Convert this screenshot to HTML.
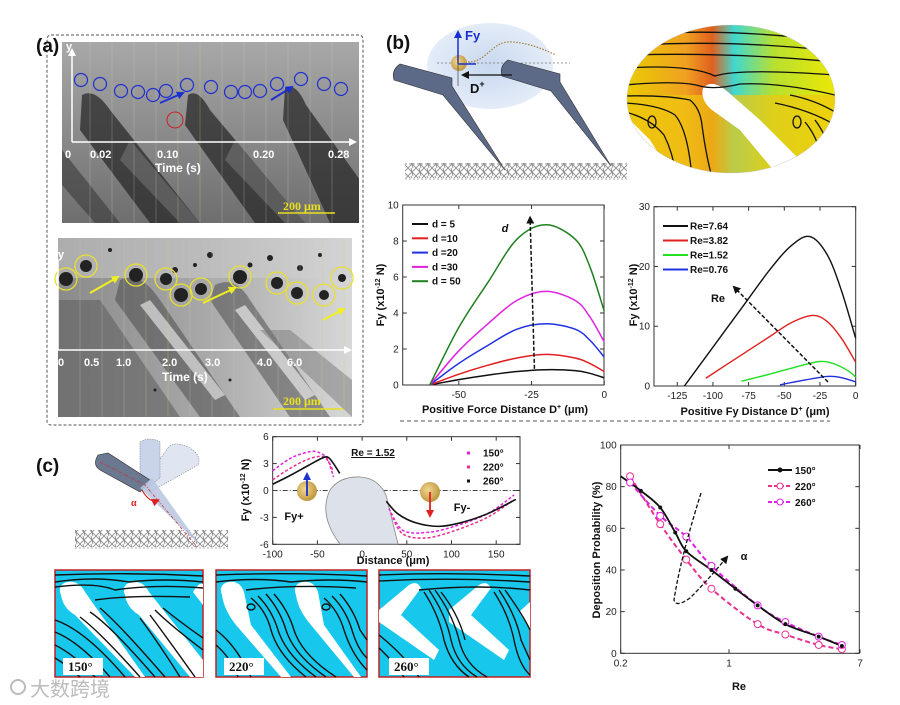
<!DOCTYPE html>
<html><head><meta charset="utf-8">
<style>
html,body{margin:0;padding:0;background:#fff;}
svg{display:block;font-family:"Liberation Sans","Noto Sans CJK SC",sans-serif;}
.tk{font-size:10px;fill:#222;}
.ax{font-size:11px;font-weight:bold;fill:#111;}
.lg{font-size:10px;font-weight:bold;fill:#111;}
.pl{font-size:19px;font-weight:bold;fill:#111;}
</style></head>
<body>
<svg id="fig" width="900" height="705" viewBox="0 0 900 705" xmlns="http://www.w3.org/2000/svg">
<defs>
<linearGradient id="gTop" x1="0" y1="0" x2="0" y2="1"><stop offset="0" stop-color="#a8a8a8"/><stop offset="0.45" stop-color="#8e8e8e"/><stop offset="1" stop-color="#6e6e6e"/></linearGradient>
<linearGradient id="gBot" x1="0" y1="0" x2="1" y2="0"><stop offset="0" stop-color="#8a8a8a"/><stop offset="0.5" stop-color="#a8a8a8"/><stop offset="1" stop-color="#d8d8d8"/></linearGradient>
<linearGradient id="gCont" x1="0" y1="0" x2="1" y2="0"><stop offset="0" stop-color="#e8d000"/><stop offset="0.3" stop-color="#f0a020"/><stop offset="0.42" stop-color="#e06020"/><stop offset="0.52" stop-color="#40d8d0"/><stop offset="0.7" stop-color="#b8e030"/><stop offset="1" stop-color="#f0e800"/></linearGradient>
<radialGradient id="gBlue" cx="0.5" cy="0.5" r="0.5"><stop offset="0" stop-color="#c8d8f0"/><stop offset="1" stop-color="#e4ecf8"/></radialGradient>
<radialGradient id="gPart" cx="0.4" cy="0.4" r="0.6"><stop offset="0" stop-color="#f0d890"/><stop offset="1" stop-color="#c09840"/></radialGradient>
<clipPath id="clipCont"><ellipse cx="731" cy="99" rx="104" ry="74"/></clipPath>
<clipPath id="cTopImg"><rect x="62" y="42" width="297" height="181"/></clipPath>
<clipPath id="cBotImg"><rect x="58" y="238" width="294" height="179"/></clipPath>
<pattern id="hatch" width="8" height="8" patternUnits="userSpaceOnUse"><path d="M0,8 L8,0 M0,0 L8,8 M3,0 L5,8" stroke="#666" stroke-width="0.8"/></pattern>
<marker id="ahK" markerUnits="userSpaceOnUse" markerWidth="8" markerHeight="8" refX="6" refY="4" orient="auto"><path d="M0,0 L8,4 L0,8 Z" fill="#111"/></marker>
<marker id="ahB" markerUnits="userSpaceOnUse" markerWidth="8" markerHeight="8" refX="6" refY="4" orient="auto"><path d="M0,0 L8,4 L0,8 Z" fill="#1a2fd0"/></marker>
<marker id="ahR" markerUnits="userSpaceOnUse" markerWidth="8" markerHeight="8" refX="6" refY="4" orient="auto"><path d="M0,0 L8,4 L0,8 Z" fill="#e02020"/></marker>
<marker id="ahY" markerUnits="userSpaceOnUse" markerWidth="8" markerHeight="8" refX="6" refY="4" orient="auto"><path d="M0,0 L8,4 L0,8 Z" fill="#f0f020"/></marker>
<marker id="ahW" markerUnits="userSpaceOnUse" markerWidth="8" markerHeight="8" refX="6" refY="4" orient="auto"><path d="M0,0 L8,4 L0,8 Z" fill="#fff"/></marker>
</defs>

<!-- ===== Panel (a) ===== -->
<g>
<rect x="47" y="35" width="316" height="390" rx="4" fill="none" stroke="#555" stroke-dasharray="3,2"/>
<text x="36" y="52" class="pl">(a)</text>
<g clip-path="url(#cTopImg)">
<rect x="62" y="42" width="297" height="181" fill="url(#gTop)"/>
<path d="M82,95 Q95,88 110,110 L200,223 L150,223 L80,130 Z" fill="#2a2a2a" opacity="0.75"/>
<path d="M188,95 Q198,88 210,110 L305,223 L255,223 L185,125 Z" fill="#2a2a2a" opacity="0.75"/>
<path d="M285,88 Q296,82 306,105 L360,180 L360,223 L330,223 L283,120 Z" fill="#2a2a2a" opacity="0.75"/>
<path d="M62,150 L120,223 L95,223 L62,185 Z" fill="#3a3a3a" opacity="0.6"/>
<path d="M130,140 L200,223 L180,223 L120,160 Z" fill="#bdbdbd" opacity="0.25"/>
<path d="M235,140 L305,223 L285,223 L225,160 Z" fill="#bdbdbd" opacity="0.25"/>
<g stroke="#c8d8a8" stroke-width="0.5" opacity="0.5"><path d="M90,42V223M112,42V223M134,42V223M156,42V223M178,42V223M200,42V223M222,42V223M244,42V223M266,42V223M288,42V223M310,42V223M332,42V223"/></g>
</g>
<g fill="none" stroke="#2030d0" stroke-width="1.2">
<circle cx="81" cy="80" r="6.5"/><circle cx="100" cy="84" r="6.5"/><circle cx="121" cy="91" r="6.5"/><circle cx="138" cy="92" r="6.5"/><circle cx="153" cy="95" r="6.5"/><circle cx="166" cy="91" r="6.5"/><circle cx="187" cy="85" r="6.5"/><circle cx="211" cy="87" r="6.5"/><circle cx="231" cy="92" r="6.5"/><circle cx="245" cy="92" r="6.5"/><circle cx="260" cy="91" r="6.5"/><circle cx="277" cy="84" r="6.5"/><circle cx="301" cy="79" r="6.5"/><circle cx="324" cy="84" r="6.5"/><circle cx="341" cy="89" r="6.5"/>
</g>
<circle cx="175" cy="120" r="8" fill="none" stroke="#d02020" stroke-width="1"/>
<line x1="160" y1="103" x2="183" y2="93" stroke="#2030d0" stroke-width="2" marker-end="url(#ahB)"/>
<line x1="271" y1="100" x2="292" y2="87" stroke="#2030d0" stroke-width="2" marker-end="url(#ahB)"/>
<g>
<line x1="72" y1="142" x2="72" y2="50" stroke="#fff" stroke-width="1.5" marker-end="url(#ahW)"/>
<line x1="72" y1="142" x2="355" y2="142" stroke="#fff" stroke-width="1.5" marker-end="url(#ahW)"/>
<text x="66" y="50" fill="#fff" font-size="11" font-weight="bold">y</text>
<g fill="#fff" font-size="11" font-weight="bold"><text x="65" y="158">0</text><text x="90" y="158">0.02</text><text x="157" y="158">0.10</text><text x="253" y="158">0.20</text><text x="328" y="158">0.28</text><text x="155" y="172" font-size="12">Time (s)</text></g>
</g>
<line x1="278" y1="213" x2="335" y2="213" stroke="#e8e020" stroke-width="1.5"/>
<text x="283" y="210" fill="#e8e020" font-size="12" font-weight="bold" font-family="Liberation Serif, serif">200 μm</text>

<g clip-path="url(#cBotImg)">
<rect x="58" y="238" width="294" height="179" fill="url(#gBot)"/>
<rect x="58" y="238" width="294" height="40" fill="#d0d0d0" opacity="0.5"/>
<path d="M58,300 L100,300 L180,417 L58,417 Z" fill="#606060" opacity="0.6"/>
<path d="M120,280 Q140,270 160,300 L240,417 L200,417 L115,300 Z" fill="#444" opacity="0.5"/>
<path d="M150,300 L225,395 L215,400 L140,305 Z" fill="#e0e0e0" opacity="0.7"/>
<path d="M215,285 Q235,275 250,300 L330,417 L290,417 L210,300 Z" fill="#444" opacity="0.5"/>
<path d="M245,305 L315,395 L305,400 L235,310 Z" fill="#e8e8e8" opacity="0.7"/>
<path d="M260,330 L352,417 L352,380 L290,330 Z" fill="#777" opacity="0.5"/>
<g fill="#222"><circle cx="175" cy="270" r="3"/><circle cx="195" cy="265" r="2"/><circle cx="210" cy="255" r="3"/><circle cx="250" cy="265" r="2.5"/><circle cx="270" cy="258" r="3"/><circle cx="300" cy="268" r="3"/><circle cx="320" cy="255" r="2"/><circle cx="110" cy="250" r="2"/><circle cx="155" cy="390" r="1.5"/><circle cx="230" cy="380" r="1.5"/></g>
<g stroke="#b8d098" stroke-width="0.5" opacity="0.6"><path d="M80,238V417M102,238V417M124,238V417M146,238V417M168,238V417M190,238V417M212,238V417M234,238V417M256,238V417M278,238V417M300,238V417M322,238V417M344,238V417"/></g>
</g>
<g fill="#222">
<circle cx="66" cy="279" r="7"/><circle cx="86" cy="266" r="6"/><circle cx="136" cy="275" r="7"/><circle cx="166" cy="279" r="6"/><circle cx="181" cy="295" r="7"/><circle cx="201" cy="289" r="6"/><circle cx="240" cy="277" r="7"/><circle cx="277" cy="283" r="6"/><circle cx="297" cy="293" r="6"/><circle cx="324" cy="295" r="5"/><circle cx="342" cy="278" r="4"/>
</g>
<g fill="none" stroke="#e8e030" stroke-width="1.3">
<circle cx="66" cy="279" r="11"/><circle cx="86" cy="266" r="11"/><circle cx="136" cy="275" r="11"/><circle cx="166" cy="279" r="11"/><circle cx="181" cy="295" r="11"/><circle cx="201" cy="289" r="11"/><circle cx="240" cy="277" r="11"/><circle cx="277" cy="283" r="11"/><circle cx="297" cy="293" r="11"/><circle cx="324" cy="295" r="11"/><circle cx="342" cy="278" r="11"/>
</g>
<g stroke="#f0f020" stroke-width="2">
<line x1="90" y1="293" x2="118" y2="277" marker-end="url(#ahY)"/><line x1="203" y1="303" x2="235" y2="288" marker-end="url(#ahY)"/><line x1="323" y1="320" x2="344" y2="309" marker-end="url(#ahY)"/>
</g>
<g>
<line x1="58" y1="350" x2="350" y2="350" stroke="#fff" stroke-width="1.5" marker-end="url(#ahW)"/>
<line x1="58" y1="350" x2="58" y2="260" stroke="#fff" stroke-width="1.5"/>
<text x="58" y="258" fill="#fff" font-size="11" font-weight="bold">y</text>
<g fill="#fff" font-size="11" font-weight="bold"><text x="58" y="366">0</text><text x="84" y="366">0.5</text><text x="116" y="366">1.0</text><text x="162" y="366">2.0</text><text x="205" y="366">3.0</text><text x="257" y="366">4.0</text><text x="287" y="366">6.0</text><text x="162" y="381" font-size="12">Time (s)</text></g>
</g>
<line x1="273" y1="409" x2="343" y2="409" stroke="#e8e020" stroke-width="1.5"/>
<text x="283" y="405" fill="#e8e020" font-size="12" font-weight="bold" font-family="Liberation Serif, serif">200 μm</text>
</g>

<!-- ===== Panel (b) schematic ===== -->
<g>
<text x="386" y="49" class="pl">(b)</text>
<ellipse cx="490" cy="66" rx="63" ry="43" fill="url(#gBlue)"/>
<line x1="437" y1="63" x2="570" y2="63" stroke="#777" stroke-width="0.8" stroke-dasharray="2,2"/>
<path d="M400,64 Q391,70 394,80 L443,95 L505,170 L452,86 L452,78 Z" fill="#5c6a88" stroke="#333" stroke-width="0.6"/>
<path d="M508,60 Q499,66 502,76 L551,91 L611,166 L560,82 L560,74 Z" fill="#5c6a88" stroke="#333" stroke-width="0.6"/>
<circle cx="459" cy="63" r="8" fill="url(#gPart)"/>
<line x1="458" y1="64" x2="458" y2="32" stroke="#1a2fd0" stroke-width="1.5" marker-end="url(#ahB)"/>
<line x1="458" y1="64" x2="476" y2="64" stroke="#1a2fd0" stroke-width="1.5"/>
<text x="465" y="40" fill="#1a2fd0" font-size="13" font-weight="bold">Fy</text>
<line x1="458" y1="60" x2="458" y2="86" stroke="#555" stroke-width="0.8"/>
<line x1="512" y1="75" x2="463" y2="75" stroke="#111" stroke-width="1.2" marker-end="url(#ahK)"/>
<text x="470" y="93" font-size="13" font-weight="bold" fill="#111">D<tspan font-size="9" dy="-6">+</tspan></text>
<path d="M468,62 C488,62 492,40 512,42 C530,43 545,50 556,55" fill="none" stroke="#a08040" stroke-width="1.2" stroke-dasharray="1.5,1.5"/>
<rect x="405" y="163" width="222" height="15" fill="url(#hatch)" opacity="0.8"/>
<line x1="405" y1="164" x2="628" y2="164" stroke="#555" stroke-width="0.6" stroke-dasharray="2,2"/>
<line x1="405" y1="179" x2="628" y2="179" stroke="#555" stroke-width="0.6" stroke-dasharray="2,2"/>
</g>
<g>
<g clip-path="url(#clipCont)">
<rect x="620" y="20" width="220" height="160" fill="url(#gCont)"/>
<rect x="620" y="95" width="220" height="85" fill="#f0c810" opacity="0.7"/>
<path d="M703,88 Q712,78 728,92 L760,120 L800,160 L812,175 L780,178 L740,130 L712,110 Q700,100 703,88 Z" fill="#fff"/>
<path d="M620,110 L650,140 L672,175 L620,175 Z" fill="#fff"/>
<g fill="none" stroke="#111" stroke-width="1.3">
<path d="M660,33 Q730,30 805,38"/><path d="M640,45 Q730,40 825,50"/><path d="M630,55 Q730,52 835,62"/><path d="M625,68 Q690,64 715,76 Q740,68 835,75"/>
<path d="M625,85 Q680,80 700,86 Q715,90 740,84 Q780,82 835,95"/>
<path d="M625,96 Q665,95 690,100 Q700,108 702,125 Q705,150 712,178"/>
<path d="M625,103 Q660,105 675,115 Q688,130 692,178"/>
<path d="M625,112 Q650,118 664,135 Q674,155 676,178"/>
<path d="M790,95 Q815,100 835,112"/><path d="M775,103 Q810,110 835,125"/><path d="M805,122 Q820,140 822,165"/><path d="M815,120 Q830,140 830,160"/>
<ellipse cx="652" cy="122" rx="4" ry="6"/><ellipse cx="797" cy="122" rx="4" ry="6"/>
</g>
</g>
<ellipse cx="731" cy="99" rx="104" ry="74" fill="none" stroke="#bbb" stroke-width="0.6" stroke-dasharray="1,1"/>
</g>

<line x1="400" y1="421" x2="830" y2="421" stroke="#555" stroke-width="1" stroke-dasharray="4,3"/>

<!-- ===== Panel (c) schematic ===== -->
<g>
<text x="36" y="472" class="pl">(c)</text>
<rect x="75" y="530" width="153" height="17" fill="url(#hatch)" opacity="0.8"/>
<line x1="75" y1="548" x2="228" y2="548" stroke="#555" stroke-width="0.6" stroke-dasharray="2,2"/>
<path d="M168,448 Q174,440 190,448 Q202,456 198,465 L150,492 L140,486 Z" fill="#dfe6f2" stroke="#888" stroke-width="0.6" stroke-dasharray="1.5,1"/>
<path d="M140,442 Q150,436 160,442 L160,478 L145,490 L140,478 Z" fill="#c9d4ea" stroke="#888" stroke-width="0.6" stroke-dasharray="1.5,1"/>
<path d="M98,455 Q92,465 100,470 L140,492 L150,480 L108,453 Z" fill="#6a7890" stroke="#333" stroke-width="0.6"/>
<path d="M140,488 L152,478 L200,545 Z" fill="#b8c6e0" opacity="0.85"/>
<path d="M100,462 L145,485 L198,548" fill="none" stroke="#d03030" stroke-width="0.8" stroke-dasharray="3,1.5,1,1.5"/>
<path d="M142,490 Q150,504 158,500" fill="none" stroke="#d02020" stroke-width="1.2" marker-end="url(#ahR)"/>
<text x="131" y="506" fill="#e02020" font-size="10" font-weight="bold" font-family="Liberation Serif, serif">α</text>
</g>

<!-- Flow panels -->
<g transform="translate(55,570)">
<rect x="0" y="0" width="148" height="107" fill="#18c8ec" stroke="#c02020" stroke-width="1.5"/>
<path d="M6,25 Q2,15 12,12 Q24,10 30,22 L90,107 L80,107 L20,45 Q8,38 6,25 Z" fill="#fff"/>
<path d="M70,25 Q66,15 76,12 Q88,10 94,22 L148,90 L148,107 L135,107 L84,45 Q72,38 70,25 Z" fill="#fff"/>
<path d="M138,22 Q144,12 148,14 L148,35 Z" fill="#fff"/>
<g fill="none" stroke="#111" stroke-width="1.4">
<path d="M0,5 Q74,2 148,6"/><path d="M0,12 Q40,6 74,12 Q110,8 148,12"/><path d="M0,17 Q40,12 60,20 Q100,14 148,18"/><path d="M40,30 Q75,25 135,27"/>
<path d="M0,50 Q30,60 70,107"/><path d="M0,62 Q25,72 55,107"/><path d="M0,75 Q20,85 40,107"/><path d="M0,88 Q12,95 25,107"/>
<path d="M35,42 Q55,55 100,107"/><path d="M45,38 Q65,55 110,107"/><path d="M25,47 Q45,62 85,107"/>
<path d="M100,40 Q115,55 148,80"/><path d="M108,38 Q125,52 148,68"/><path d="M95,45 Q110,65 140,107"/><path d="M85,48 Q105,75 125,107"/>
</g>
<rect x="8" y="88" width="40" height="17" fill="#fff"/>
<text x="13" y="101" font-size="13" font-weight="bold" font-family="Liberation Serif, serif" fill="#111">150°</text>
</g>
<g transform="translate(216,570)">
<rect x="0" y="0" width="151" height="107" fill="#18c8ec" stroke="#c02020" stroke-width="1.5"/>
<path d="M6,25 Q2,15 12,12 Q24,10 28,22 L35,55 L75,107 L65,107 L20,55 Q8,40 6,25 Z" fill="#fff"/>
<path d="M80,25 Q76,15 86,12 Q98,10 102,22 L108,55 L145,107 L138,107 L95,55 Q82,40 80,25 Z" fill="#fff"/>
<g fill="none" stroke="#111" stroke-width="1.4">
<path d="M0,5 Q75,2 151,6"/><path d="M0,12 Q40,7 75,12 Q115,8 151,12"/><path d="M30,20 Q80,14 140,18"/>
<path d="M35,28 Q50,40 55,60 Q62,85 90,107"/><path d="M42,26 Q56,40 62,60 Q70,85 100,107"/><path d="M50,24 Q64,40 70,60 Q78,85 110,107"/><path d="M58,24 Q72,40 78,60 Q86,85 120,107"/>
<path d="M108,28 Q122,40 128,60 Q136,85 151,100"/><path d="M116,26 Q130,40 136,60 Q142,80 151,88"/><path d="M124,24 Q138,40 144,60 L151,70"/>
<path d="M0,60 Q20,75 35,107"/><path d="M0,75 Q15,88 22,107"/>
<ellipse cx="35" cy="37" rx="4" ry="3"/><ellipse cx="110" cy="37" rx="4" ry="3"/>
</g>
<rect x="8" y="88" width="40" height="17" fill="#fff"/>
<text x="13" y="101" font-size="13" font-weight="bold" font-family="Liberation Serif, serif" fill="#111">220°</text>
</g>
<g transform="translate(379,570)">
<rect x="0" y="0" width="151" height="107" fill="#18c8ec" stroke="#c02020" stroke-width="1.5"/>
<path d="M0,40 L30,15 Q38,10 42,18 L22,45 L60,80 L55,90 L0,52 Z" fill="#fff"/>
<path d="M70,40 L100,15 Q108,10 112,18 L92,45 L130,80 L125,90 L70,52 Z" fill="#fff"/>
<path d="M140,42 L151,32 L151,60 Z" fill="#fff"/>
<g fill="none" stroke="#111" stroke-width="1.4">
<path d="M0,5 Q75,2 151,6"/><path d="M0,11 Q75,7 151,12"/><path d="M40,20 Q100,14 151,20"/>
<path d="M45,22 Q60,45 65,70 Q72,95 90,107"/><path d="M50,20 Q67,45 72,70 Q78,95 98,107"/><path d="M56,20 Q74,45 80,70 Q86,95 108,107"/><path d="M62,22 Q80,45 86,70"/>
<path d="M115,22 Q130,45 135,70 Q140,95 151,105"/><path d="M120,20 Q137,45 142,70 L151,90"/><path d="M126,20 Q144,45 151,60"/>
<path d="M0,65 Q25,85 40,107"/><path d="M0,78 Q15,92 25,107"/>
</g>
<rect x="10" y="88" width="40" height="17" fill="#fff"/>
<text x="15" y="101" font-size="13" font-weight="bold" font-family="Liberation Serif, serif" fill="#111">260°</text>
</g>

<g>
<circle cx="18" cy="687" r="7" fill="none" stroke="#bbb" stroke-width="2"/>
<text x="30" y="696" font-size="20" fill="#bbb" font-family="Liberation Sans, Noto Sans CJK SC, sans-serif">大数跨境</text>
</g>

<g id="charts"></g>
</svg>

<script>
// ---- Chart b1 data ----
const b1X = [-60, -50, -40, -30, -20, -10, -5, 0];
const b1D5 = [0, 0.3, 0.55, 0.75, 0.85, 0.8, 0.65, 0.4];
const b1D10 = [0, 0.6, 1.1, 1.5, 1.7, 1.5, 1.2, 0.75];
const b1D20 = [0, 1.2, 2.2, 3.1, 3.4, 3.1, 2.5, 1.55];
const b1D30 = [0, 1.9, 3.4, 4.7, 5.2, 4.7, 3.8, 2.4];
const b1D50 = [0, 3.2, 5.7, 8.1, 8.9, 8.1, 6.6, 4.1];
const b1Labels = ["d = 5", "d =10", "d =20", "d =30", "d = 50"];
const b1XTicks = [-50, -25, 0];
const b1YTicks = [0, 2, 4, 6, 8, 10];
// ---- Chart b2 data ----
const b2X764 = [-120, -100, -80, -60, -45, -32, -20, -10, 0];
const b2Y764 = [0, 6.5, 13, 19.5, 23.5, 25, 22, 16, 8];
const b2X382 = [-105, -80, -60, -45, -30, -20, -10, 0];
const b2Y382 = [1.3, 5.2, 8.3, 10.6, 11.8, 10.8, 8, 4];
const b2X152 = [-80, -60, -40, -25, -15, -5, 0];
const b2Y152 = [0.8, 2, 3.3, 4.1, 3.7, 2.5, 1.5];
const b2X076 = [-53, -40, -20, -10, 0];
const b2Y076 = [0.2, 0.8, 1.6, 1.4, 0.7];
const b2Labels = ["Re=7.64", "Re=3.82", "Re=1.52", "Re=0.76"];
const b2XTicks = [-125, -100, -75, -50, -25, 0];
const b2YTicks = [0, 10, 20, 30];
// ---- Chart c1 data ----
const c1BlackLX = [-100, -80, -60, -45, -38, -32, -25];
const c1BlackLY = [0.7, 1.7, 2.8, 3.6, 3.7, 3.0, 1.9];
const c1BlackRX = [27, 40, 60, 85, 110, 140, 172];
const c1BlackRY = [-1.2, -2.6, -3.6, -4.0, -3.6, -2.6, -1.0];
const c1P1LX = [-100, -80, -60, -50, -40, -35, -32];
const c1P1LY = [2.2, 3.6, 4.3, 4.3, 3.7, 2.5, 1.5];
const c1P1RX = [30, 45, 70, 100, 140, 170];
const c1P1RY = [-2.0, -4.4, -4.7, -4.1, -2.6, -0.5];
const c1P2LX = [-100, -80, -60, -45, -38, -33];
const c1P2LY = [1.2, 2.5, 3.5, 3.8, 3.3, 2.3];
const c1P2RX = [32, 45, 70, 100, 140, 170];
const c1P2RY = [-2.5, -4.8, -5.3, -4.6, -3.0, -1.0];
const c1Labels = ["150°", "220°", "260°"];
const c1XTicks = [-100, -50, 0, 50, 100, 150];
const c1YTicks = [-6, -3, 0, 3, 6];
// ---- Chart c2 data ----
const c2X150 = [0.2, 0.27, 0.36, 0.45, 0.53, 0.77, 1.1, 1.53, 2.31, 3.79, 5.35];
const c2Y150 = [85, 78, 70, 58, 49, 40, 31, 23, 14, 8, 3.5];
const c2X220 = [0.23, 0.36, 0.53, 0.77, 1.53, 2.31, 3.79, 5.35];
const c2Y220 = [85, 62, 45, 31, 14, 9, 4, 2];
const c2X260 = [0.23, 0.36, 0.53, 0.77, 1.53, 2.31, 3.79, 5.35];
const c2Y260 = [82, 66, 56, 42, 23, 15, 8, 4];
const c2Labels = ["150°", "220°", "260°"];
const c2XTicks = [0.2, 1, 7];
const c2YTicks = [0, 20, 40, 60, 80, 100];

const NS = "http://www.w3.org/2000/svg";
const root = document.getElementById("charts");
function mk(tag, attrs, parent) {
  const e = document.createElementNS(NS, tag);
  for (const k in attrs) e.setAttribute(k, attrs[k]);
  (parent || root).appendChild(e);
  return e;
}
function smooth(pts) {
  let d = "M" + pts[0][0] + "," + pts[0][1];
  for (let i = 0; i < pts.length - 1; i++) {
    const p0 = pts[i - 1] || pts[i], p1 = pts[i], p2 = pts[i + 1], p3 = pts[i + 2] || p2;
    const c1x = p1[0] + (p2[0] - p0[0]) / 6, c1y = p1[1] + (p2[1] - p0[1]) / 6;
    const c2x = p2[0] - (p3[0] - p1[0]) / 6, c2y = p2[1] - (p3[1] - p1[1]) / 6;
    d += " C" + c1x + "," + c1y + " " + c2x + "," + c2y + " " + p2[0] + "," + p2[1];
  }
  return d;
}
function series(xs, ys, sx, sy, color, w, dash, name) {
  const pts = xs.map((x, i) => [sx(x), sy(ys[i])]);
  const p = mk("path", {d: smooth(pts), fill: "none", stroke: color, "stroke-width": w, "stroke-dasharray": dash || "none"});
  
  
  return pts;
}
function frame(x0, y0, x1, y1, sx, sy, xt, yt, xfmt, name) {
  const g = mk("g", {});
  
  
  mk("rect", {x: x0, y: y1, width: x1 - x0, height: y0 - y1, fill: "none", stroke: "#333", "stroke-width": 1}, g);
  xt.forEach(v => {
    const x = sx(v);
    mk("line", {x1: x, x2: x, y1: y0, y2: y0 - 4, stroke: "#333"}, g);
    mk("line", {x1: x, x2: x, y1: y1, y2: y1 + 4, stroke: "#333"}, g);
    const t = mk("text", {x: x, y: y0 + 13, "text-anchor": "middle", class: "tk"}, g);
    t.textContent = xfmt ? xfmt(v) : v;
    
    
  });
  yt.forEach(v => {
    const y = sy(v);
    mk("line", {x1: x0, x2: x0 + 4, y1: y, y2: y, stroke: "#333"}, g);
    mk("line", {x1: x1, x2: x1 - 4, y1: y, y2: y, stroke: "#333"}, g);
    const t = mk("text", {x: x0 - 4, y: y + 3.5, "text-anchor": "end", class: "tk"}, g);
    t.textContent = v;
    
    
  });
}
function label(x, y, txt, cls, rot, name, extra) {
  const t = mk("text", Object.assign({x: x, y: y, class: cls, "text-anchor": "middle"}, extra || {}));
  if (rot) t.setAttribute("transform", "rotate(-90 " + x + " " + y + ")");
  t.innerHTML = txt;
  
  
  return t;
}

// ===== Chart b1 =====
const b1sx = v => 402.7 + (v + 69.3) * 2.908;
const b1sy = v => 385 - v * 18;
frame(402.7, 385, 604, 205, b1sx, b1sy, b1XTicks, b1YTicks, null, "chart-b1-axes");
const b1Colors = ["#111", "#e02020", "#2030e0", "#e020e0", "#208020"];
[b1D5, b1D10, b1D20, b1D30, b1D50].forEach((ys, i) => {
  series(b1X, ys, b1sx, b1sy, b1Colors[i], 1.5, null, "b1-line-" + i);
});
b1Labels.forEach((s, i) => {
  const y = 224 + i * 14.3;
  const l = mk("line", {x1: 412, x2: 428, y1: y, y2: y, stroke: b1Colors[i], "stroke-width": 2});
  
  
  const t = mk("text", {x: 432, y: y + 3.5, class: "lg"});
  t.textContent = s;
  
  
});
const b1arrow = mk("line", {x1: b1sx(-24), y1: b1sy(0.9), x2: b1sx(-25.5), y2: b1sy(9.3), stroke: "#111", "stroke-width": 1.5, "stroke-dasharray": "4,2", "marker-end": "url(#ahK)"});


label(505, 232, "d", "ax", false, "b1-d-label", {"font-style": "italic", "font-size": "13"});
label(384, 295, "Fy (x10<tspan font-size='7' dy='-4'>-12</tspan><tspan dy='4'> N)</tspan>", "ax", true, "b1-y-axis-title");
label(505, 413, "Positive Force Distance D<tspan font-size='7' dy='-4'>+</tspan><tspan dy='4'> (μm)</tspan>", "ax", false, "b1-x-axis-title");

// ===== Chart b2 =====
const b2sx = v => 654 + (v + 141.3) * 1.427;
const b2sy = v => 386 - v * 5.977;
frame(654, 386, 855.7, 206.7, b2sx, b2sy, b2XTicks, b2YTicks, null, "chart-b2-axes");
const b2Colors = ["#111", "#e02020", "#20e020", "#2030e0"];
series(b2X764, b2Y764, b2sx, b2sy, b2Colors[0], 1.4, null, "b2-line-re764");
series(b2X382, b2Y382, b2sx, b2sy, b2Colors[1], 1.4, null, "b2-line-re382");
series(b2X152, b2Y152, b2sx, b2sy, b2Colors[2], 1.4, null, "b2-line-re152");
series(b2X076, b2Y076, b2sx, b2sy, b2Colors[3], 1.4, null, "b2-line-re076");
b2Labels.forEach((s, i) => {
  const y = 226 + i * 14.5;
  const l = mk("line", {x1: 663, x2: 688, y1: y, y2: y, stroke: b2Colors[i], "stroke-width": 2});
  
  
  const t = mk("text", {x: 690, y: y + 3.5, class: "lg"});
  t.textContent = s;
  
  
});
const b2arrow = mk("line", {x1: 828, y1: 382, x2: 734, y2: 287, stroke: "#111", "stroke-width": 1.5, "stroke-dasharray": "4,2", "marker-end": "url(#ahK)"});


label(718, 302, "Re", "ax", false, "b2-re-label", {"font-size": "14"});
label(637, 295, "Fy (x10<tspan font-size='7' dy='-4'>-12</tspan><tspan dy='4'> N)</tspan>", "ax", true, "b2-y-axis-title");
label(755, 415, "Positive Fy Distance D<tspan font-size='7' dy='-4'>+</tspan><tspan dy='4'> (μm)</tspan>", "ax", false, "b2-x-axis-title");

// ===== Chart c1 =====
const c1sx = v => 272.7 + (v + 100) * 0.894;
const c1sy = v => 490.5 - v * 8.97;
frame(272.7, 544.3, 520, 436.7, c1sx, c1sy, c1XTicks, c1YTicks, null, "chart-c1-axes");
const zl = mk("line", {x1: 272.7, x2: 520, y1: c1sy(0), y2: c1sy(0), stroke: "#444", "stroke-width": 1, "stroke-dasharray": "5,2,1,2"});


const drop = mk("path", {d: "M340,544 Q318,515 330,490 Q340,476 360,477 Q378,478 386,495 L398,544 Z", fill: "#dde2ea", stroke: "#888", "stroke-width": 0.8});


series(c1P1LX, c1P1LY, c1sx, c1sy, "#e020e0", 1.5, "3,2", "c1-line-150-left");
series(c1P1RX, c1P1RY, c1sx, c1sy, "#e020e0", 1.5, "3,2", "c1-line-150-right");
series(c1P2LX, c1P2LY, c1sx, c1sy, "#e83090", 1.5, "3,2", "c1-line-220-left");
series(c1P2RX, c1P2RY, c1sx, c1sy, "#e83090", 1.5, "3,2", "c1-line-220-right");
series(c1BlackLX, c1BlackLY, c1sx, c1sy, "#111", 1.6, null, "c1-line-260-left");
series(c1BlackRX, c1BlackRY, c1sx, c1sy, "#111", 1.6, null, "c1-line-260-right");
const c1Colors = ["#e020e0", "#e83090", "#111"];
c1Labels.forEach((s, i) => {
  const y = 453 + i * 14;
  const d = mk("rect", {x: 467, y: y - 1.5, width: 3, height: 3, fill: c1Colors[i]});
  
  
  const t = mk("text", {x: 483, y: y + 3.5, class: "lg"});
  t.textContent = s;
  
  
});
label(373, 456, "Re = 1.52", "lg", false, "c1-re-label", {"text-decoration": "underline"});
const pa = mk("circle", {cx: 307, cy: 491, r: 10, fill: "url(#gPart)"});


const pb = mk("circle", {cx: 430, cy: 492, r: 10, fill: "url(#gPart)"});


const fa = mk("line", {x1: 307, y1: 496, x2: 307, y2: 474, stroke: "#1a2fd0", "stroke-width": 1.8, "marker-end": "url(#ahB)"});


const fb = mk("line", {x1: 430, y1: 492, x2: 430, y2: 516, stroke: "#e02020", "stroke-width": 1.8, "marker-end": "url(#ahR)"});


label(294, 520, "Fy+", "ax", false, "c1-fy-plus-label", {fill: "#1a2fd0", "font-size": "14"});
label(462, 511, "Fy-", "ax", false, "c1-fy-minus-label", {fill: "#e02020", "font-size": "14"});
label(249, 490, "Fy (x10<tspan font-size='7' dy='-4'>-12</tspan><tspan dy='4'> N)</tspan>", "ax", true, "c1-y-axis-title");
label(393, 564, "Distance (μm)", "ax", false, "c1-x-axis-title");

// ===== Chart c2 =====
const c2sx = v => 729 + Math.log10(v) * 155;
const c2sy = v => 653.3 - v * 2.083;
frame(620.7, 653.3, 859.3, 445, c2sx, c2sy, c2XTicks, c2YTicks, null, "chart-c2-axes");
series(c2X220, c2Y220, c2sx, c2sy, "#e83090", 2, "5,3", "c2-line-220");
series(c2X260, c2Y260, c2sx, c2sy, "#e020e0", 2, "5,3", "c2-line-260");
series(c2X150, c2Y150, c2sx, c2sy, "#111", 1.8, null, "c2-line-150");
c2X220.forEach((x, i) => {
  const c = mk("circle", {cx: c2sx(x), cy: c2sy(c2Y220[i]), r: 3.5, fill: "#fff", stroke: "#e83090", "stroke-width": 1});
  
  
});
c2X260.forEach((x, i) => {
  const c = mk("circle", {cx: c2sx(x), cy: c2sy(c2Y260[i]), r: 3.5, fill: "#fff", stroke: "#e020e0", "stroke-width": 1});
  
  
});
c2X150.forEach((x, i) => {
  if (i === 0) return;
  const c = mk("circle", {cx: c2sx(x), cy: c2sy(c2Y150[i]), r: 2, fill: "#111"});
  
  
});
const c2Colors = ["#111", "#e83090", "#e020e0"];
c2Labels.forEach((s, i) => {
  const y = 470 + i * 16;
  const l = mk("line", {x1: 768, x2: 792, y1: y, y2: y, stroke: c2Colors[i], "stroke-width": 2, "stroke-dasharray": i ? "4,2" : "none"});
  
  
  const m = mk("circle", {cx: 780, cy: y, r: i ? 3 : 2, fill: i ? "#fff" : "#111", stroke: c2Colors[i]});
  
  
  const t = mk("text", {x: 795, y: y + 4, class: "lg", "font-size": "11"});
  t.textContent = s;
  
  
});
const aa = mk("path", {d: "M701,493 Q680,560 674,600 Q676,608 690,598 Q708,580 727,557", fill: "none", stroke: "#111", "stroke-width": 1.3, "stroke-dasharray": "4,2", "marker-end": "url(#ahK)"});


label(744, 560, "α", "ax", false, "c2-alpha-label", {"font-size": "14"});
label(600, 550, "Deposition Probability (%)", "ax", true, "c2-y-axis-title");
label(739, 690, "Re", "ax", false, "c2-x-axis-title");
</script>
</body></html>
